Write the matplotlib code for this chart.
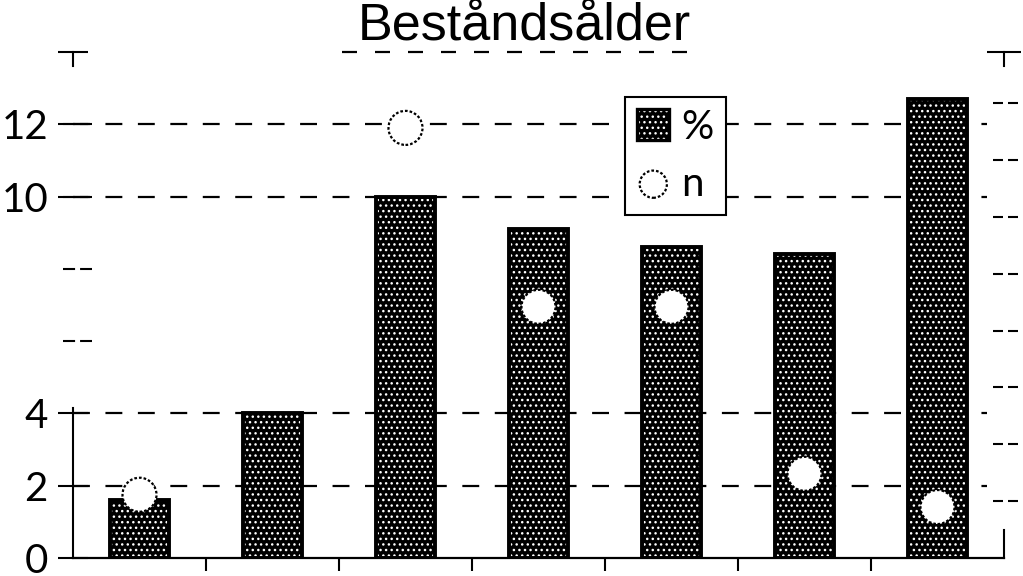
import numpy as np
import matplotlib
matplotlib.use("Agg")
import matplotlib.pyplot as plt
import matplotlib.patches as mpatches
from matplotlib.lines import Line2D

# ---- data ----
categories = ["1", "2", "3", "4", "5", "6", "7"]
pct_values = [1.6, 4.0, 10.0, 9.1, 8.6, 8.4, 12.7]
n_values = [1.75, np.nan, 11.9, 6.95, 6.95, 2.33, 1.41]
y_ticks = [0, 2, 4, 14]
y_ticklabels = ["0", "2", "4", ""]
y_label_ticks = [10, 12]
y_dash_ticks = [6, 8, 10, 12]
grid_values = [2, 4, 10, 12]
right_ticks = [1, 2, 3, 4, 5, 6, 7, 8]
title = "Beståndsålder"
legend_labels = ["%", "n"]

plt.rcParams['font.family'] = ['Lato', 'DejaVu Sans']
plt.rcParams['hatch.linewidth'] = 1.0

fig = plt.figure(figsize=(10.23, 5.76), dpi=100)
AX_W = 1004 - 73
ax = fig.add_axes([73/1023, 18/576, AX_W/1023, (558-52)/576])

x = np.arange(len(categories))
ax.set_xlim(-0.5, len(categories) - 0.5)
ax.set_ylim(0, 14)

# gridlines
for v in grid_values:
    ax.axhline(v, xmin=0, xmax=(987-73)/AX_W, color='black', lw=1.6,
               dashes=(7.6, 7.0), zorder=1)

# bars: dark fill with white dots, black outline
ax.bar(x, pct_values, width=0.44, facecolor='black', edgecolor='white', hatch='...',
       linewidth=0, zorder=2)
ax.bar(x, pct_values, width=0.44, facecolor='none', edgecolor='black',
       linewidth=2.8, zorder=3)

# circles
sc = ax.scatter(x, n_values, s=600, facecolor='white', edgecolor='black',
                linewidths=1.6, linestyles=(0, (1.2, 0.9)), zorder=4)

# left axis
ax.set_yticks(y_ticks + y_label_ticks)
ax.set_yticklabels(y_ticklabels + [str(v) for v in y_label_ticks], fontsize=29)
ax.tick_params(axis='y', direction='inout', length=22, width=1.5, pad=7)
for t in ax.yaxis.get_major_ticks():
    if t.get_loc() in y_label_ticks:
        t.tick1line.set_visible(False)
ax.hlines(y_dash_ticks, -10/AX_W, 19/AX_W, transform=ax.get_yaxis_transform(),
          color='black', lw=1.5, linestyles=(0, (5.8, 2.4)), clip_on=False)
ax.spines['left'].set_bounds(0, 4.15)
ax.spines['left'].set_linewidth(1.5)
ax.spines['top'].set_visible(False)
ax.spines['right'].set_visible(False)
ax.spines['bottom'].set_linewidth(1.6)

# bottom ticks at category boundaries
ax.set_xticks(x)
ax.set_xticklabels([])
ax.tick_params(axis='x', which='major', length=0)
ax.set_xticks(np.arange(0.5, len(categories) - 0.5, 1.0), minor=True)
ax.tick_params(axis='x', which='minor', direction='out', length=9, width=1.5)

# T-caps at the top of both axes
ax.axvline(-0.5, ymin=1 - 14/506, ymax=1.0, color='black', lw=1.5, clip_on=False)
ax.axvline(len(categories) - 0.5, ymin=1 - 14/506, ymax=1.0, color='black', lw=1.5, clip_on=False)

# right axis
ax2 = ax.twinx()
ax2.set_ylim(0, 8.9)
ax2.set_yticks([8.9])
ax2.set_yticklabels([])
ax2.tick_params(axis='y', direction='inout', length=24, width=1.5)
ax2.hlines(right_ticks, 1 - 11/AX_W, 1 + 16/AX_W, transform=ax2.get_yaxis_transform(),
           color='black', lw=1.5, linestyles=(0, (4.8, 2.4)), clip_on=False)
ax2.spines['right'].set_bounds(0, 0.5)
ax2.spines['right'].set_linewidth(1.5)
for s in ['left', 'top', 'bottom']:
    ax2.spines[s].set_visible(False)

# legend
fill = mpatches.Patch(facecolor='black', edgecolor='white', hatch='...', linewidth=0)
edge = mpatches.Patch(facecolor='none', edgecolor='black', linewidth=2.4)
leg = ax.legend([(fill, edge), sc], legend_labels, loc='upper left',
                bbox_to_anchor=(0.593, 0.912), fontsize=29, frameon=True,
                fancybox=False, framealpha=1.0, borderpad=0.3, labelspacing=0.5,
                handlelength=0.8, handleheight=0.8, handletextpad=0.3,
                borderaxespad=0, markerscale=0.8)
leg.get_frame().set_edgecolor('black')
leg.get_frame().set_linewidth(1.5)
leg.set_zorder(5)

# title with dashed underline
fig.text(524/1023, 1 - 40/576, title, ha='center', va='baseline', fontsize=37.5,
         family=['Liberation Sans', 'DejaVu Sans'])
fig.add_artist(Line2D([342/1023, 692/1023], [1 - 52/576, 1 - 52/576],
                      color='black', lw=1.6, dashes=(6.75, 8.1)))

fig.savefig('out.png', dpi=100)
